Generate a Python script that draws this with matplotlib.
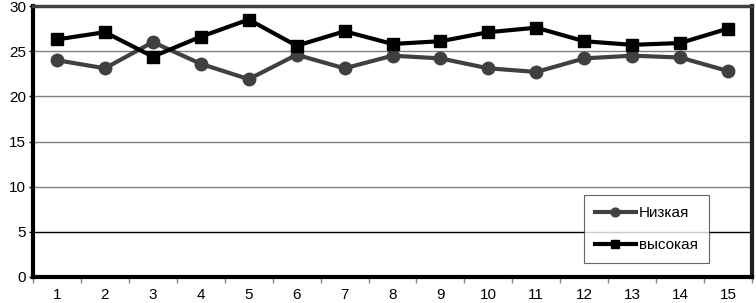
import matplotlib
matplotlib.use("Agg")
import matplotlib.pyplot as plt
import numpy as np

plt.rcParams['font.family'] = ['Liberation Sans', 'DejaVu Sans']

# data
categories = list(range(1, 16))
low = [24.0, 23.1, 26.0, 23.6, 21.9, 24.6, 23.1, 24.5, 24.2, 23.1, 22.7, 24.2, 24.5, 24.3, 22.8]
high = [26.3, 27.1, 24.4, 26.6, 28.5, 25.6, 27.2, 25.8, 26.1, 27.1, 27.6, 26.1, 25.7, 25.9, 27.5]
labels = ["Низкая", "высокая"]
yticks = [0, 5, 10, 15, 20, 25, 30]

fig = plt.figure(figsize=(7.56, 3.03), dpi=100)
ax = fig.add_axes([33 / 756, 26 / 303, 719 / 756, 271 / 303])

# gridlines
for y in yticks[1:-1]:
    ax.axhline(y, color="black" if y == 5 else "#808080", lw=1.0, zorder=1)

ax.plot(categories, low, color="#404040", lw=3, marker="o", ms=9,
        label=labels[0], zorder=3)
ax.plot(categories, high, color="black", lw=3, marker="s", ms=9,
        label=labels[1], zorder=4)

ax.set_xlim(0.5, 15.5)
ax.set_ylim(0, 30)
ax.set_yticks(yticks)
ax.set_xticks(categories)
ax.set_xticks(np.arange(0.5, 16, 1), minor=True)
ax.tick_params(axis="x", which="major", length=0, pad=8, labelsize=11)
ax.tick_params(axis="x", which="minor", length=4, width=1, color="#808080")
ax.tick_params(axis="y", length=3, width=1, pad=2, labelsize=11)

ax.spines["left"].set_linewidth(3)
ax.spines["bottom"].set_linewidth(3)
ax.spines["top"].set_linewidth(2.5)
ax.spines["top"].set_color("#404040")
ax.spines["right"].set_linewidth(3)
ax.spines["right"].set_color("#202020")

leg = ax.legend(loc="lower right", bbox_to_anchor=(0.940, 0.052), fontsize=11,
                frameon=True, fancybox=False, edgecolor="#404040",
                handlelength=2.7, handletextpad=0.2, labelspacing=1.2,
                borderpad=0.7, borderaxespad=0, markerscale=0.7)
leg.get_frame().set_linewidth(0.8)

fig.savefig("out.png", dpi=100)
